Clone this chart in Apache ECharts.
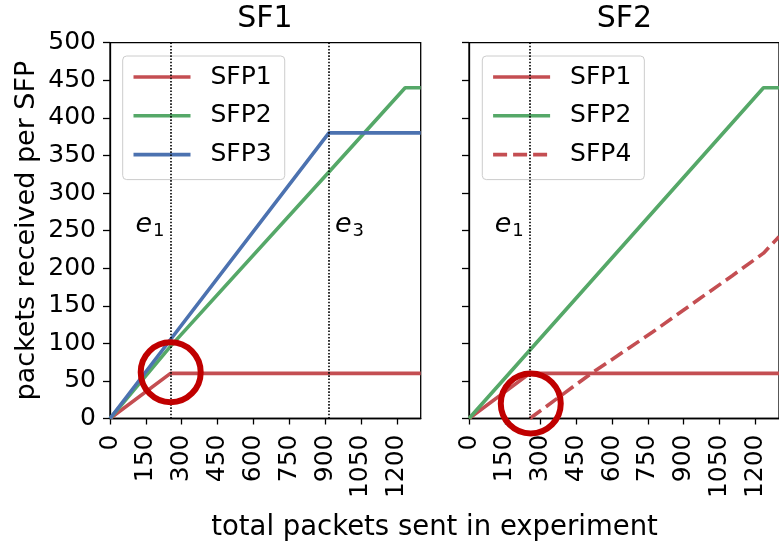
<!DOCTYPE html>
<html><head><meta charset="utf-8">
<script src="https://cdn.jsdelivr.net/npm/echarts@6/dist/echarts.min.js"></script>
<style>html,body{margin:0;padding:0;background:#fff}#c{width:779px;height:547px}</style>
</head><body><div id="c"></div>
<script>
// ---- data ----
const panelTitles = ['SF1', 'SF2'];
const legendSF1 = ['SFP1', 'SFP2', 'SFP3'];
const legendSF2 = ['SFP1', 'SFP2', 'SFP4'];
const sf1_SFP1 = [[0, 0], [253, 60], [1300, 60]];
const sf1_SFP2 = [[0, 0], [253, 96], [916, 328], [1235, 440], [1300, 440]];
const sf1_SFP3 = [[0, 0], [916, 380], [1300, 380]];
const sf2_SFP1 = [[0, 0], [255, 60], [1300, 60]];
const sf2_SFP2 = [[0, 0], [1235, 440], [1300, 440]];
const sf2_SFP4 = [[255, 0], [513, 60], [770, 115], [965, 159], [1104, 190], [1235, 220], [1300, 242]];
const sf1EventX = [253, 916];
const sf1EventSub = ['1', '3'];
const sf1EventSide = ['left', 'right'];
const sf2EventX = [255];
const sf2EventSub = ['1'];
const sf2EventSide = ['left'];
const eventLabelY = 257;
const sf1Highlight = [[254, 61.5]];
const sf2Highlight = [[259, 20]];
const xMin = 0, xMax = 1300, xStep = 150;
const yMin = 0, yMax = 500, yStep = 50;
const xAxisTitle = 'total packets sent in experiment';
const yAxisTitle = 'packets received per SFP';

// ---- styling ----
const FF = 'DejaVu Sans';
const colors = { SFP1: '#c44e52', SFP2: '#55a868', SFP3: '#4c72b0', SFP4: '#c44e52' };
const grids = [
  { left: 110, top: 42.7, width: 310.7, height: 375.8 },
  { left: 469, top: 42.7, width: 310.7, height: 375.8 }
];

function xAxisCfg(i) {
  return {
    type: 'value', gridIndex: i, min: xMin, max: xMax, interval: xStep,
    axisLine: { show: true, onZero: false, lineStyle: { color: '#000', width: 1.3 } },
    axisTick: { show: true, length: 6, lineStyle: { color: '#000', width: 1.3 } },
    axisLabel: { rotate: 90, fontSize: 25, color: '#000', fontFamily: FF, margin: 16, showMaxLabel: false,
      formatter: v => String(v) },
    splitLine: { show: false }
  };
}
function yAxisCfg(i) {
  const a = {
    type: 'value', gridIndex: i, min: yMin, max: yMax, interval: yStep,
    axisLine: { show: true, onZero: false, lineStyle: { color: '#000', width: 1.3 } },
    axisTick: { show: true, length: 7, lineStyle: { color: '#000', width: 1.3 } },
    axisLabel: { show: i === 0, fontSize: 25, color: '#000', fontFamily: FF, margin: 14 },
    splitLine: { show: false }
  };
  if (i === 0) {
    a.name = yAxisTitle;
    a.nameLocation = 'middle';
    a.nameGap = 70;
    a.nameTextStyle = { fontSize: 27, fontFamily: FF, color: '#000' };
  }
  return a;
}
function lineSeries(name, data, gi, dashed) {
  return {
    type: 'line', name: name, xAxisIndex: gi, yAxisIndex: gi, data: data,
    symbol: 'none', showSymbol: false, animation: false,
    lineStyle: { color: colors[name], width: 3.6, type: dashed ? [14, 6] : 'solid' },
    itemStyle: { color: colors[name] }, z: 2
  };
}
function eventSeries(xs, subs, sides, gi) {
  return {
    type: 'scatter', xAxisIndex: gi, yAxisIndex: gi, symbolSize: 0, silent: true,
    itemStyle: { opacity: 1 },
    data: xs.map((x, k) => ({
      value: [x, eventLabelY],
      label: { show: true, position: sides[k], distance: 6, formatter: '{i|e}{s|' + subs[k] + '}' }
    })),
    label: {
      show: true, color: '#000', opacity: 1,
      rich: {
        i: { fontStyle: 'italic', fontSize: 27, fontFamily: FF, color: '#000' },
        s: { fontSize: 18, fontFamily: FF, color: '#000', padding: [12, 0, 0, 1] }
      }
    },
    markLine: {
      silent: true, symbol: 'none', label: { show: false },
      lineStyle: { color: '#000', type: 'dotted', width: 1.6, opacity: 1 },
      data: xs.map(x => ({ xAxis: x }))
    },
    z: 1
  };
}
function circleSeries(data, gi) {
  return {
    type: 'scatter', xAxisIndex: gi, yAxisIndex: gi, data: data, symbol: 'circle', symbolSize: 60,
    clip: false, silent: true,
    itemStyle: { color: 'rgba(0,0,0,0)', borderColor: '#c00000', borderWidth: 6, opacity: 1 }, z: 5
  };
}
function legendCfg(left, data) {
  return {
    left: left, top: 56, orient: 'vertical', data: data,
    itemWidth: 57, itemHeight: 14, itemGap: 12.8, padding: [8, 13, 12, 9],
    backgroundColor: 'rgba(255,255,255,0.8)', borderColor: '#cccccc', borderWidth: 1, borderRadius: 4,
    itemStyle: { opacity: 0 },
    lineStyle: { width: 3.6, type: 'inherit' },
    textStyle: { fontSize: 25, fontFamily: FF, color: '#000', lineHeight: 26, padding: [0, 0, 0, 15] },
    selectedMode: false
  };
}

const option = {
  animation: false,
  backgroundColor: '#fff',
  title: [
    { text: panelTitles[0], left: 265, top: 4, textAlign: 'center', padding: 0,
      textStyle: { fontSize: 30, fontWeight: 'normal', fontFamily: FF, color: '#000' } },
    { text: panelTitles[1], left: 624.5, top: 4, textAlign: 'center', padding: 0,
      textStyle: { fontSize: 30, fontWeight: 'normal', fontFamily: FF, color: '#000' } },
    { text: xAxisTitle, left: 434.5, top: 514, textAlign: 'center', padding: 0,
      textStyle: { fontSize: 27.5, fontWeight: 'normal', fontFamily: FF, color: '#000' } }
  ],
  grid: grids.map(g => Object.assign({ show: true, borderColor: '#000', borderWidth: 1.3, backgroundColor: 'transparent', containLabel: false }, g)),
  xAxis: [xAxisCfg(0), xAxisCfg(1)],
  yAxis: [yAxisCfg(0), yAxisCfg(1)],
  legend: [legendCfg(122.7, legendSF1), legendCfg(482.3, legendSF2)],
  series: [
    eventSeries(sf1EventX, sf1EventSub, sf1EventSide, 0),
    lineSeries('SFP1', sf1_SFP1, 0),
    lineSeries('SFP2', sf1_SFP2, 0),
    lineSeries('SFP3', sf1_SFP3, 0),
    circleSeries(sf1Highlight, 0),
    eventSeries(sf2EventX, sf2EventSub, sf2EventSide, 1),
    lineSeries('SFP1', sf2_SFP1, 1),
    lineSeries('SFP2', sf2_SFP2, 1),
    lineSeries('SFP4', sf2_SFP4, 1, true),
    circleSeries(sf2Highlight, 1)
  ]
};
const chart = echarts.init(document.getElementById('c'), null, { renderer: 'canvas' });
chart.setOption(option);
</script>
</body></html>
